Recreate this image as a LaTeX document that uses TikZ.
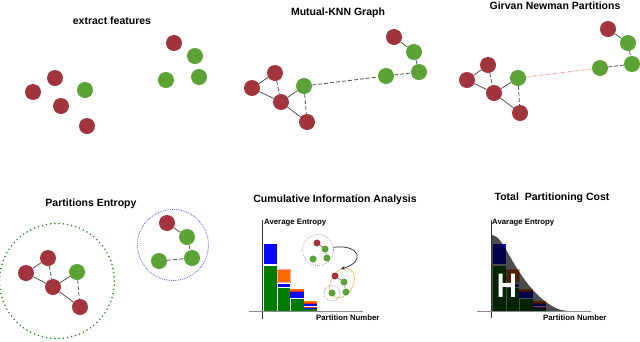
\documentclass[tikz,border=0pt]{standalone}
\usepackage{fontspec}
\setmainfont{Liberation Sans}
\usetikzlibrary{backgrounds,shapes.geometric,arrows.meta}
\definecolor{nred}{RGB}{161,52,60}
\definecolor{ngreen}{RGB}{90,163,52}
\definecolor{ecol}{RGB}{85,85,85}
\definecolor{bblue}{RGB}{10,10,250}
\definecolor{bgreen}{RGB}{0,125,0}
\definecolor{borange}{RGB}{255,105,0}
\definecolor{bred}{RGB}{235,35,35}
\definecolor{pgreen}{RGB}{40,150,40}
\definecolor{pblue}{RGB}{90,90,255}
\definecolor{salmon}{RGB}{244,160,150}
\definecolor{lblue}{RGB}{150,150,230}
\definecolor{lorange}{RGB}{245,195,110}
\pgfdeclarelayer{edges}
\pgfsetlayers{background,edges,main}
\tikzset{
  rn/.style={circle,fill=nred,minimum size=16pt,inner sep=0pt},
  gn/.style={circle,fill=ngreen,minimum size=16pt,inner sep=0pt},
  srn/.style={circle,fill=nred,minimum size=7pt,inner sep=0pt},
  sgn/.style={circle,fill=ngreen,minimum size=7pt,inner sep=0pt},
  ed/.style={draw=ecol,line width=0.8pt},
  ded/.style={draw=ecol,line width=0.8pt,dash pattern=on 4pt off 2pt},
  sed/.style={draw=ecol,line width=0.5pt},
  ttl/.style={font=\fontsize{10.5}{12}\selectfont\bfseries,inner sep=0pt},
  axl/.style={font=\fontsize{7.8}{9}\selectfont\bfseries,inner sep=0pt,anchor=west},
  bar/.style={draw=white,line width=0.25pt},
}
\newcommand\barset{%
  \fill[bar,fill=bgreen] (263,265) rectangle (277,311);
  \fill[bar,fill=bblue] (263,243) rectangle (277,264.5);
  \fill[bar,fill=bgreen] (277,287) rectangle (290,311);
  \fill[bar,fill=bblue] (277,283) rectangle (290,287);
  \fill[fill=borange,draw=bred!40,line width=0.4pt] (277,269.5) rectangle (290,282);
  \fill[bar,fill=bgreen] (290,298) rectangle (304,311);
  \fill[fill=bblue] (290,292) rectangle (304,298);
  \fill[fill=bred] (290,291) rectangle (304,292);
  \fill[fill=borange] (290,289) rectangle (304,291);
  \fill[fill=bgreen] (304,309) rectangle (317,311);
  \fill[fill=bblue] (304,307.5) rectangle (317,309);
  \fill[fill=bred] (304,306.5) rectangle (317,307.5);
  \fill[fill=bblue] (304,303.5) rectangle (317,306);
  \fill[fill=bred] (304,302.5) rectangle (317,303.5);
  \fill[fill=borange] (304,301) rectangle (317,302.5);
}
\begin{document}
\begin{tikzpicture}[x=1pt,y=-1pt]
\begin{pgfonlayer}{background}
\fill[white] (0,0) rectangle (640,341);
\end{pgfonlayer}
\useasboundingbox (0,0) rectangle (640,341);

% ---------- Panel 1: extract features
\node[ttl] (t1) at (112,21) {extract features};
\node[rn] (a1) at (55,78) {};
\node[rn] (a2) at (33,92) {};
\node[rn] (a3) at (61,106) {};
\node[gn] (a4) at (85,90) {};
\node[rn] (a5) at (87,126) {};
\node[rn] (a6) at (174,43) {};
\node[gn] (a7) at (195,56) {};
\node[gn] (a8) at (166,80) {};
\node[gn] (a9) at (199,77) {};

% ---------- Panel 2: Mutual-KNN Graph
\node[ttl] (t2) at (338,13) {Mutual-KNN Graph};
\node[rn] (b1) at (275,73) {};
\node[rn] (b2) at (252,88) {};
\node[rn] (b3) at (281,102) {};
\node[gn] (b4) at (304,86) {};
\node[rn] (b5) at (307,122) {};
\node[rn] (b6) at (394,37) {};
\node[gn] (b7) at (414,52) {};
\node[gn] (b8) at (386,76) {};
\node[gn] (b9) at (419,72) {};
\begin{pgfonlayer}{edges}
\draw[ed] (b1) -- (b2);
\draw[ded] (b1) -- (b3);
\draw[ed] (b2) -- (b3);
\draw[ed] (b3) -- (b4);
\draw[ded] (b4) -- (b5);
\draw[ed] (b3) -- (b5);
\draw[ded] (b4) -- (b8);
\draw[ded] (b8) -- (b9);
\draw[ded] (b7) -- (b9);
\draw[ed] (b6) -- (b7);
\end{pgfonlayer}

% ---------- Panel 3: Girvan Newman Partitions
\node[ttl] (t3) at (555,6) {Girvan Newman Partitions};
\node[rn] (c1) at (488,65) {};
\node[rn] (c2) at (467,80) {};
\node[rn] (c3) at (494,93) {};
\node[gn] (c4) at (518,78) {};
\node[rn] (c5) at (520,113) {};
\node[rn] (c6) at (608,29) {};
\node[gn] (c7) at (628,43) {};
\node[gn] (c8) at (600,68) {};
\node[gn] (c9) at (632,64) {};
\begin{pgfonlayer}{edges}
\draw[ed] (c1) -- (c2);
\draw[ded] (c1) -- (c3);
\draw[ed] (c2) -- (c3);
\draw[ed] (c3) -- (c4);
\draw[ded] (c4) -- (c5);
\draw[ed] (c3) -- (c5);
\draw[draw=salmon,line width=0.9pt,dash pattern=on 3pt off 1.5pt on 1pt off 1.5pt] (c4) -- (c8);
\draw[ded] (c8) -- (c9);
\draw[ded] (c7) -- (c9);
\draw[ed] (c6) -- (c7);
\end{pgfonlayer}

% ---------- Panel 4: Partitions Entropy
\node[ttl] (t4) at (91,204) {Partitions Entropy};
\node[circle,minimum size=115pt,inner sep=0pt,draw=pgreen,line width=1.8pt,line cap=round,dash pattern=on 0pt off 4.2pt] (pg) at (57,281) {};
\node[circle,minimum size=71pt,inner sep=0pt,draw=pblue,line width=0.9pt,dash pattern=on 0.7pt off 1.1pt] (pb) at (173,245) {};
\node[rn] (d1) at (48,258) {};
\node[rn] (d2) at (26,273) {};
\node[rn] (d3) at (53,287) {};
\node[gn] (d4) at (77,272) {};
\node[rn] (d5) at (80,307) {};
\node[rn] (d6) at (167,223) {};
\node[gn] (d7) at (187,237) {};
\node[gn] (d8) at (159,261) {};
\node[gn] (d9) at (192,258) {};
\begin{pgfonlayer}{edges}
\draw[ed] (d1) -- (d2);
\draw[ded] (d1) -- (d3);
\draw[ed] (d2) -- (d3);
\draw[ed] (d3) -- (d4);
\draw[ded] (d4) -- (d5);
\draw[ed] (d3) -- (d5);
\draw[ded] (d8) -- (d9);
\draw[ded] (d7) -- (d9);
\draw[ed] (d6) -- (d7);
\end{pgfonlayer}

% ---------- Panel 5: Cumulative Information Analysis
\node[ttl] (t5) at (335,200) {Cumulative Information Analysis};
\barset
\coordinate (y5a) at (262,220);
\coordinate (y5b) at (262,319);
\coordinate (x5a) at (249,311);
\coordinate (x5b) at (363,311);
\draw[draw=black!80,line width=0.8pt] (y5a) -- (y5b);
\draw[draw=black!45,line width=1pt] (x5a) -- (x5b);
\node[axl] (ya5) at (264,223) {Average Entropy};
\node[axl] (xa5) at (316,318) {Partition Number};
\node[circle,minimum size=31pt,inner sep=0pt,draw=lblue,line width=0.7pt,dash pattern=on 0.8pt off 1.2pt] (mc) at (318,250) {};
\node[ellipse,minimum width=32pt,minimum height=22pt,inner sep=0pt,rotate=60,draw=lorange,line width=0.8pt] (me) at (342,283) {};
\node[circle,minimum size=16pt,inner sep=0pt,draw=lblue,line width=0.7pt,dash pattern=on 0.8pt off 1.2pt] (ms) at (332,293) {};
\node[srn] (e1) at (317,243) {};
\node[sgn] (e2) at (325,249) {};
\node[sgn] (e3) at (313,259) {};
\node[sgn] (e4) at (327,258) {};
\node[srn] (f1) at (335,276) {};
\node[sgn] (f2) at (344,282) {};
\node[sgn] (f3) at (346,292) {};
\node[sgn] (g1) at (332,293) {};
\begin{pgfonlayer}{edges}
\draw[sed] (e1) -- (e2);
\draw[sed] (e2) -- (e4);
\draw[sed] (f1) -- (f2);
\draw[sed] (f2) -- (f3);
\end{pgfonlayer}
\draw[draw=black!85,line width=0.7pt,-{Stealth[length=4pt,width=3.5pt]}] (mc.10) .. controls (360,244) and (366,262) .. (me.north east);

% ---------- Panel 6: Total Partitioning Cost
\node[ttl] (t6) at (552,198) {Total\ \ Partitioning Cost};
\begin{scope}[xshift=229pt]
\barset
\end{scope}
\fill[black,fill opacity=0.7] plot[smooth,tension=0.6] coordinates {(492,235) (498,238) (505,248) (518,270) (532,289) (546,302) (558,309) (568,311)} -- (492,311) -- cycle;
\coordinate (y6a) at (491,220);
\coordinate (y6b) at (491,318);
\coordinate (x6a) at (477,311);
\coordinate (x6b) at (591,311);
\draw[draw=black!80,line width=0.8pt] (y6a) -- (y6b);
\draw[draw=black!45,line width=1pt] (x6a) -- (x6b);
\node[axl] (ya6) at (492,223) {Avarage Entropy};
\node[axl] (xa6) at (543,318) {Partition Number};
\node[text=white,font=\fontsize{34}{34}\selectfont\bfseries,inner sep=0pt,xscale=0.82] (H) at (507,285.5) {H};
\end{tikzpicture}
\end{document}
